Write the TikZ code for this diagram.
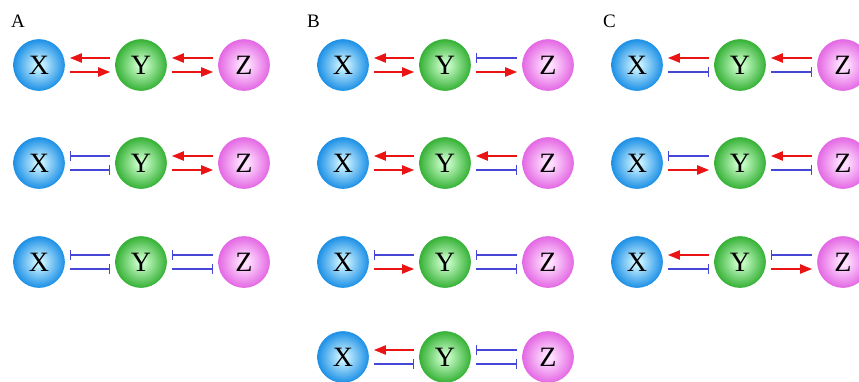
\documentclass[tikz,border=0pt]{standalone}
\usepackage{fontspec}
\setmainfont{Liberation Serif}
\usetikzlibrary{arrows.meta}
\definecolor{actc}{RGB}{235,20,20}
\definecolor{inhc}{RGB}{70,70,215}
\definecolor{xout}{RGB}{30,145,230}
\definecolor{xin}{RGB}{195,238,255}
\definecolor{yout}{RGB}{55,178,55}
\definecolor{yin}{RGB}{195,250,195}
\definecolor{zout}{RGB}{228,105,228}
\definecolor{zin}{RGB}{255,222,255}
\pgfdeclareradialshading{xshade}{\pgfpoint{0bp}{0bp}}{color(0bp)=(xin); color(4bp)=(xin); color(25bp)=(xout); color(50bp)=(xout)}
\pgfdeclareradialshading{yshade}{\pgfpoint{0bp}{0bp}}{color(0bp)=(yin); color(4bp)=(yin); color(25bp)=(yout); color(50bp)=(yout)}
\pgfdeclareradialshading{zshade}{\pgfpoint{0bp}{0bp}}{color(0bp)=(zin); color(4bp)=(zin); color(25bp)=(zout); color(50bp)=(zout)}
\tikzset{
  mol/.style={circle, minimum size=51pt, inner sep=0pt, line width=0.6pt,
    font=\fontsize{28}{28}\selectfont},
  xmol/.style={mol, shading=xshade, draw=xout},
  ymol/.style={mol, shading=yshade, draw=yout},
  zmol/.style={mol, shading=zshade, draw=zout},
  act/.style={draw=actc, line width=2pt, -{Triangle[length=12pt,width=9pt]}},
  inh/.style={draw=inhc, line width=1.4pt, -{Bar[width=10pt,line width=1.4pt]}},
  panel/.style={anchor=base west, font=\fontsize{19}{19}\selectfont, inner sep=0pt},
}
\newcommand\lnk[4]{%
  \draw[#3] ([xshift=-5pt,yshift=7pt]#2.west) -- ([xshift=5pt,yshift=7pt]#1.east);
  \draw[#4] ([xshift=5pt,yshift=-7pt]#1.east) -- ([xshift=-5pt,yshift=-7pt]#2.west);}
\newcommand\trio[5]{% #1 name prefix, #2 xX, #3 xY, #4 xZ, #5 y
  \node[xmol] (#1x) at (#2,#5) {X};
  \node[ymol] (#1y) at (#3,#5) {Y};
  \node[zmol] (#1z) at (#4,#5) {Z};}
\begin{document}
\begin{tikzpicture}[x=1pt,y=-1pt]
\useasboundingbox (0,0) rectangle (859,381);
\clip (0,0) rectangle (859,381);
\node[panel] (la) at (11,27) {A};
\node[panel] (lb) at (307,27) {B};
\node[panel] (lc) at (603,27) {C};
% Panel A
\trio{a1}{39}{141}{244}{65}
\lnk{a1x}{a1y}{act}{act}\lnk{a1y}{a1z}{act}{act}
\trio{a2}{39}{141}{244}{163}
\lnk{a2x}{a2y}{inh}{inh}\lnk{a2y}{a2z}{act}{act}
\trio{a3}{39}{141}{244}{262}
\lnk{a3x}{a3y}{inh}{inh}\lnk{a3y}{a3z}{inh}{inh}
% Panel B
\trio{b1}{343}{445}{548}{65}
\lnk{b1x}{b1y}{act}{act}\lnk{b1y}{b1z}{inh}{act}
\trio{b2}{343}{445}{548}{163}
\lnk{b2x}{b2y}{act}{act}\lnk{b2y}{b2z}{act}{inh}
\trio{b3}{343}{445}{548}{262}
\lnk{b3x}{b3y}{inh}{act}\lnk{b3y}{b3z}{inh}{inh}
\trio{b4}{343}{445}{548}{357}
\lnk{b4x}{b4y}{act}{inh}\lnk{b4y}{b4z}{inh}{inh}
% Panel C
\trio{c1}{637}{740}{843}{65}
\lnk{c1x}{c1y}{act}{inh}\lnk{c1y}{c1z}{act}{inh}
\trio{c2}{637}{740}{843}{163}
\lnk{c2x}{c2y}{inh}{act}\lnk{c2y}{c2z}{act}{inh}
\trio{c3}{637}{740}{843}{262}
\lnk{c3x}{c3y}{act}{inh}\lnk{c3y}{c3z}{inh}{act}
\end{tikzpicture}
\end{document}
